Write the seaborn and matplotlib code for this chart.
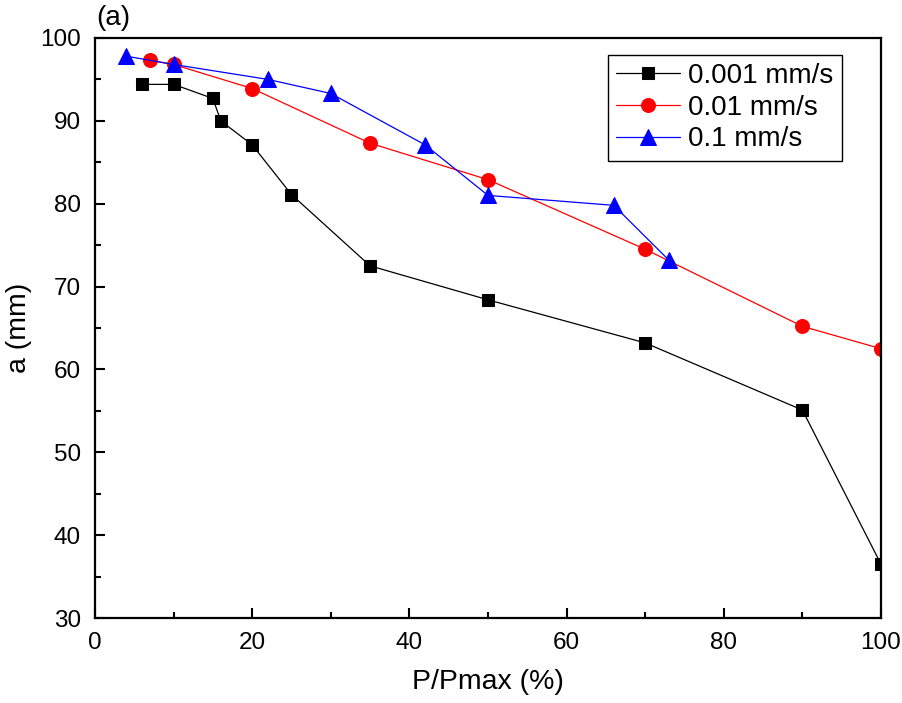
import pandas as pd
import matplotlib
matplotlib.use("Agg")
import matplotlib.pyplot as plt
import seaborn as sns
from matplotlib.ticker import MultipleLocator

# --- data ---
x_slow = [6, 10, 15, 16, 20, 25, 35, 50, 70, 90, 100]
y_slow = [94.4, 94.4, 92.7, 90.0, 87.1, 81.1, 72.5, 68.4, 63.2, 55.1, 36.5]

x_mid = [7, 10, 20, 35, 50, 70, 90, 100]
y_mid = [97.3, 96.8, 93.9, 87.3, 82.9, 74.5, 65.2, 62.5]

x_fast = [4, 10, 22, 30, 42, 50, 66, 73]
y_fast = [97.8, 96.8, 95.0, 93.3, 87.1, 81.0, 79.8, 73.2]

labels = ["0.001 mm/s", "0.01 mm/s", "0.1 mm/s"]
colors = ["black", "red", "blue"]
markers = ["s", "o", "^"]
msizes = [9, 10, 11]

sns.set_style("ticks")
plt.rcParams["font.family"] = ["Liberation Sans", "DejaVu Sans"]
plt.rcParams["text.color"] = "black"
plt.rcParams["axes.labelcolor"] = "black"
plt.rcParams["axes.edgecolor"] = "black"
plt.rcParams["xtick.color"] = "black"
plt.rcParams["ytick.color"] = "black"
plt.rcParams["xtick.direction"] = "in"
plt.rcParams["ytick.direction"] = "in"

fig = plt.figure(figsize=(9.02, 7.03), dpi=100)
ax = fig.add_axes([0.1053, 0.1209, 0.8714, 0.8251])

series = [(x_slow, y_slow), (x_mid, y_mid), (x_fast, y_fast)]
for (xs, ys), lab, c, m, ms in zip(series, labels, colors, markers, msizes):
    df = pd.DataFrame({"x": xs, "y": ys})
    sns.lineplot(data=df, x="x", y="y", ax=ax, color=c, marker=m, markersize=ms,
                 markeredgecolor=c, linewidth=0.9, label=lab, sort=False)

ax.set_xlim(0, 100)
ax.set_ylim(30, 100)
ax.xaxis.set_major_locator(MultipleLocator(20))
ax.xaxis.set_minor_locator(MultipleLocator(10))
ax.yaxis.set_major_locator(MultipleLocator(10))
ax.yaxis.set_minor_locator(MultipleLocator(5))
ax.tick_params(which="major", length=7, width=1.5, labelsize=17.5, pad=10)
ax.tick_params(which="minor", length=4, width=1.5)
ax.tick_params(top=False, right=False, which="both")
for sp in ax.spines.values():
    sp.set_linewidth(1.6)

ax.set_xlabel("P/Pmax (%)", fontsize=20.5, labelpad=11)
ax.set_ylabel("a (mm)", fontsize=20.5, labelpad=6)

leg = ax.legend(loc="upper right", bbox_to_anchor=(0.950, 0.971), fontsize=20,
                fancybox=False, framealpha=1, edgecolor="black",
                handlelength=2.3, handletextpad=0.3, borderpad=0.3,
                labelspacing=0.2, borderaxespad=0)
leg.get_frame().set_linewidth(1.0)

fig.text(0.107, 0.975, "(a)", fontsize=20, ha="left", va="center")

fig.savefig("out.png", dpi=100)
